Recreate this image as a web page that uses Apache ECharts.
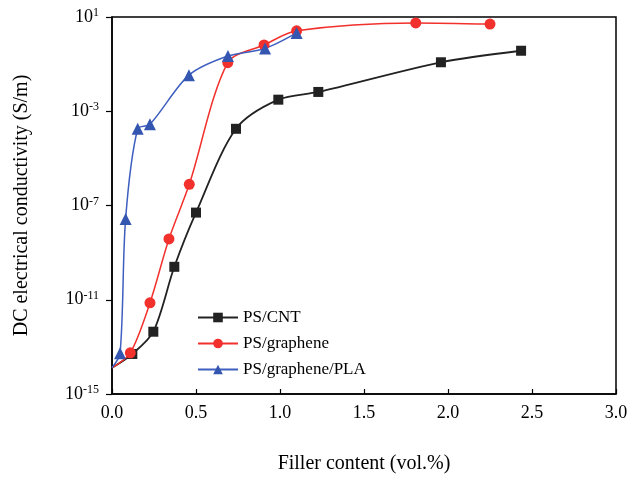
<!DOCTYPE html>
<html><head><meta charset="utf-8">
<script src="https://cdn.jsdelivr.net/npm/echarts@6/dist/echarts.min.js"></script>
<style>html,body{margin:0;padding:0;background:#fff}#c{width:632px;height:479px}</style>
</head><body><div id="c"></div>
<script>
const seriesNames = ['PS/CNT', 'PS/graphene', 'PS/graphene/PLA'];
const xCNT = [0, 0.121, 0.246, 0.371, 0.50, 0.738, 0.99, 1.228, 1.958, 2.435];
const yCNT = [1.3e-14, 5e-14, 4.4e-13, 2.5e-10, 5e-8, 1.8e-4, 3.1e-3, 6.6e-3, 0.12, 0.37];
const xGr = [0, 0.109, 0.226, 0.339, 0.46, 0.689, 0.905, 1.099, 1.808, 2.25];
const yGr = [1.3e-14, 5.6e-14, 7.4e-12, 3.8e-9, 7.9e-7, 0.115, 0.65, 2.6, 5.6, 5.0];
const xPLA = [0, 0.048, 0.081, 0.153, 0.226, 0.458, 0.69, 0.911, 1.099];
const yPLA = [1.3e-14, 5.4e-14, 2.7e-8, 1.8e-4, 2.8e-4, 0.034, 0.22, 0.46, 2.1];
const xTicks = [0, 0.5, 1.0, 1.5, 2.0, 2.5, 3.0];
const yTicks = [1e-15, 1e-11, 1e-7, 1e-3, 10];

function mk(xs, ys) {
  return xs.map((x, i) => i === 0 ? {value: [x, ys[i]], symbol: 'none'} : [x, ys[i]]);
}
const serif = '"Liberation Serif","Times New Roman",serif';
const chart = echarts.init(document.getElementById('c'));
chart.setOption({
  animation: false,
  grid: {left: 112, right: 16, top: 17, bottom: 85, show: true, borderColor: '#000', borderWidth: 1.5},
  xAxis: {
    type: 'value', min: 0, max: 3, interval: 0.5,
    name: 'Filler content (vol.%)', nameLocation: 'middle', nameGap: 60,
    nameTextStyle: {fontFamily: serif, fontSize: 20, color: '#000'},
    axisLine: {lineStyle: {color: '#000', width: 1.5}},
    axisTick: {inside: true, length: 5, lineStyle: {color: '#000', width: 1.2}},
    axisLabel: {fontFamily: serif, fontSize: 18, color: '#000', margin: 10, formatter: v => v.toFixed(1)},
    splitLine: {show: false}
  },
  yAxis: {
    type: 'log', logBase: 10, min: 1e-15, max: 10,
    name: 'DC electrical conductivity (S/m)', nameLocation: 'middle', nameGap: 80,
    nameTextStyle: {fontFamily: serif, fontSize: 20, color: '#000'},
    axisLine: {lineStyle: {color: '#000', width: 1.5}},
    axisTick: {inside: false, length: 6, customValues: yTicks, lineStyle: {color: '#000', width: 1.2}},
    axisLabel: {
      customValues: yTicks, margin: 13,
      formatter: v => '{b|10}{s|' + Math.round(Math.log10(v)) + '}',
      rich: {
        b: {fontFamily: serif, fontSize: 18, color: '#000'},
        s: {fontFamily: serif, fontSize: 12, color: '#000', verticalAlign: 'bottom', padding: [0, 0, 8, 0]}
      }
    },
    splitLine: {show: false}
  },
  legend: {
    orient: 'vertical', left: 192, top: 304, itemWidth: 40, itemHeight: 12, itemGap: 9,
    data: seriesNames,
    textStyle: {fontFamily: serif, fontSize: 17, color: '#000'}
  },
  series: [
    {name: seriesNames[0], type: 'line', smooth: 0.3, data: mk(xCNT, yCNT), symbol: 'rect', symbolSize: 10,
     itemStyle: {color: '#222'}, lineStyle: {color: '#222', width: 1.8}},
    {name: seriesNames[1], type: 'line', smooth: 0.3, data: mk(xGr, yGr), symbol: 'circle', symbolSize: 11,
     itemStyle: {color: '#f2302c'}, lineStyle: {color: '#f2302c', width: 1.5}},
    {name: seriesNames[2], type: 'line', smooth: 0.3, data: mk(xPLA, yPLA), symbol: 'triangle', symbolSize: 12,
     itemStyle: {color: '#3456b0'}, lineStyle: {color: '#3e5fbf', width: 1.5}}
  ]
});
</script></body></html>
